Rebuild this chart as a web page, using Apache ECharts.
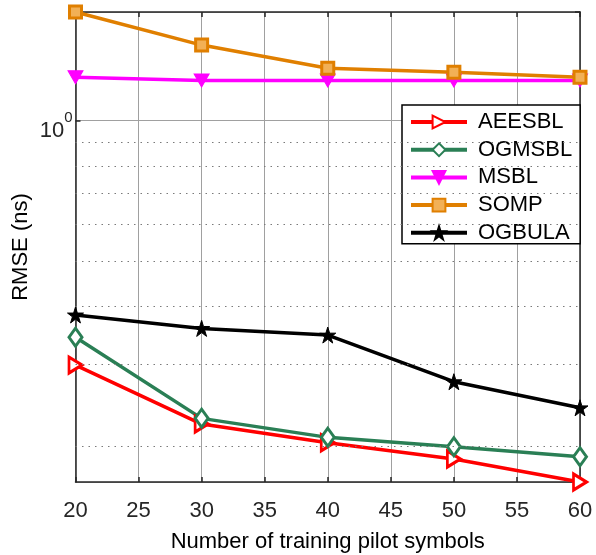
<!DOCTYPE html>
<html>
<head>
<meta charset="utf-8">
<script src="https://cdn.jsdelivr.net/npm/echarts@6/dist/echarts.min.js"></script>
<style>
html,body{margin:0;padding:0;background:#fff;}
#c{width:596px;height:555px;}
</style>
</head>
<body>
<div id="c"></div>
<script>
const categories = [20, 30, 40, 50, 60];
const AEESBL = [0.299, 0.2234, 0.2037, 0.188, 0.1678];
const OGMSBL = [0.3429, 0.2298, 0.2092, 0.1997, 0.1901];
const MSBL   = [1.240, 1.220, 1.220, 1.220, 1.220];
const SOMP   = [1.711, 1.453, 1.296, 1.270, 1.239];
const OGBULA = [0.383, 0.3584, 0.3468, 0.2754, 0.2421];
const xTicks = [20, 25, 30, 35, 40, 45, 50, 55, 60];
const yMin = 0.1678, yMax = 1.711;
const minorGrid = [0.2, 0.3, 0.4, 0.5, 0.6, 0.7, 0.8, 0.9];

const FONT = "'Liberation Sans', Arial, sans-serif";
const AX = '#262626';
const STAR = 'path://M50,0 L61.2,34.5 L97.6,34.5 L68.2,55.9 L79.4,90.5 L50,69.1 L20.6,90.5 L31.8,55.9 L2.4,34.5 L38.8,34.5 Z';

function pairs(arr){ return categories.map((x,i)=>[x, arr[i]]); }

function mk(name, data, color, symbol, size, rotate, fill, bw){
  return {
    name: name, type: 'line', data: pairs(data),
    symbol: symbol, symbolSize: size, symbolRotate: rotate,
    showAllSymbol: true,
    lineStyle: {color: color, width: 3.5},
    itemStyle: {color: fill, borderColor: color, borderWidth: bw},
    emphasis: {disabled: true},
    animation: false, z: 3
  };
}

const chart = echarts.init(document.getElementById('c'), null, {renderer: 'canvas'});
const option = {
  animation: false,
  backgroundColor: '#fff',
  textStyle: {fontFamily: FONT},
  grid: {left: 75.5, right: 16, top: 12, bottom: 73, outerBoundsMode: 'none', containLabel: false},
  xAxis: [{
    type: 'value', min: xTicks[0], max: xTicks[xTicks.length-1], interval: 5,
    name: 'Number of training pilot symbols', nameLocation: 'middle', nameGap: 49,
    nameMoveOverlap: false,
    nameTextStyle: {fontSize: 22, color: '#000', fontFamily: FONT},
    axisLine: {show: true, onZero: false, lineStyle: {color: AX, width: 1.5}},
    axisTick: {show: true, inside: true, length: 5, lineStyle: {color: AX, width: 1.5}},
    axisLabel: {fontSize: 22, color: AX, margin: 18, fontFamily: FONT},
    splitLine: {show: true, lineStyle: {color: '#a0a0a0', width: 1}}
  }, {
    type: 'value', position: 'top', min: xTicks[0], max: xTicks[xTicks.length-1], interval: 5,
    axisLine: {show: true, onZero: false, lineStyle: {color: AX, width: 1.5}},
    axisTick: {show: true, inside: true, length: 5, lineStyle: {color: AX, width: 1.5}},
    axisLabel: {show: false}, splitLine: {show: false}
  }],
  yAxis: [{
    type: 'log', logBase: 10, min: yMin, max: yMax,
    name: 'RMSE (ns)', nameLocation: 'middle', nameGap: 44,
    nameMoveOverlap: false,
    nameTextStyle: {fontSize: 22, color: '#000', fontFamily: FONT},
    axisLine: {show: true, onZero: false, lineStyle: {color: AX, width: 1.5}},
    axisTick: {show: true, inside: true, length: 5, lineStyle: {color: AX, width: 1.5}},
    axisLabel: {
      showMinLabel: false, showMaxLabel: false, margin: 3,
      formatter: function(v){
        const e = Math.round(Math.log10(v));
        if (Math.abs(Math.log10(v) - e) > 1e-6) return '';
        return '{a|10}{b|' + e + '}';
      },
      rich: {
        a: {fontSize: 22, color: AX, fontFamily: FONT, padding: [21,0,0,0]},
        b: {fontSize: 15, color: AX, fontFamily: FONT, padding: [0,0,5,0]}
      }
    },
    splitLine: {show: true, lineStyle: {color: '#a0a0a0', width: 1}}
  }, {
    type: 'log', logBase: 10, min: yMin, max: yMax, position: 'right',
    axisLine: {show: true, onZero: false, lineStyle: {color: AX, width: 1.5}},
    axisTick: {show: true, inside: true, length: 5, lineStyle: {color: AX, width: 1.5}},
    axisLabel: {show: false}, splitLine: {show: false}
  }],
  legend: {
    orient: 'vertical', left: 402, top: 105,
    backgroundColor: '#fff', borderColor: '#000', borderWidth: 1.5,
    padding: [6, 8, 0, 7],
    itemWidth: 56, itemHeight: 16, itemGap: 5.7,
    lineStyle: {width: 4},
    textStyle: {fontSize: 22, color: '#000', fontFamily: FONT, padding: [0,0,0,6]},
    data: ['AEESBL', 'OGMSBL', 'MSBL', 'SOMP', 'OGBULA']
  },
  series: [
    mk('AEESBL', AEESBL, '#ff0000', 'triangle', [16, 13], -90, '#fff', 3),
    mk('OGMSBL', OGMSBL, '#2a7f55', 'diamond', [13, 18], 0, '#fff', 3),
    mk('MSBL', MSBL, '#ff00ff', 'triangle', [15, 13], 180, '#ff00ff', 1),
    mk('SOMP', SOMP, '#e07f00', 'rect', [12, 12], 0, '#f2b056', 3),
    mk('OGBULA', OGBULA, '#000000', STAR, [16, 16], 0, '#000', 1),
    {
      type: 'line', data: [], silent: true, z: 1,
      markLine: {
        silent: true, symbol: 'none', animation: false,
        label: {show: false},
        lineStyle: {color: '#7a7a7a', type: [1.5, 5], width: 1},
        emphasis: {disabled: true},
        data: minorGrid.map(v => ({yAxis: v}))
      }
    }
  ]
};
chart.setOption(option);
</script>
</body>
</html>
